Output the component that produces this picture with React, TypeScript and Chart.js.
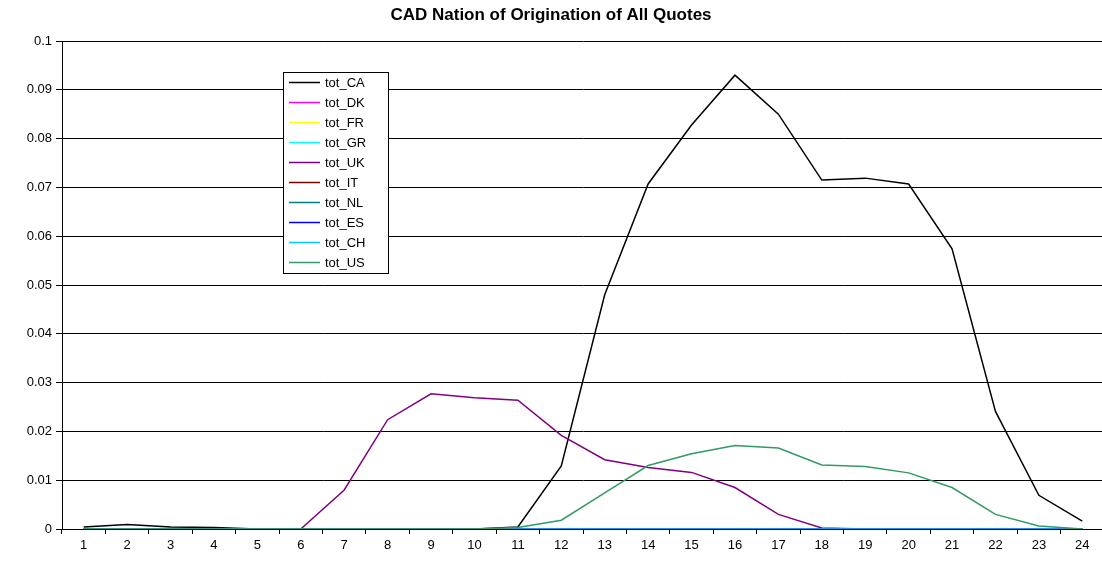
import React, { useEffect, useRef } from "react";
import { Chart, registerables } from "chart.js";

Chart.register(...registerables);

const hours = ["1","2","3","4","5","6","7","8","9","10","11","12","13","14","15","16","17","18","19","20","21","22","23","24"];
const zeros = [0,0,0,0,0,0,0,0,0,0,0,0,0,0,0,0,0,0,0,0,0,0,0,0];

const totCA = [0.0004,0.0009,0.0004,0.0003,0,0,0,0,0,0,0.0004,0.0129,0.048,0.0707,0.0828,0.093,0.085,0.0715,0.0719,0.0707,0.0574,0.0241,0.0069,0.0016];
const totDK = zeros;
const totFR = zeros;
const totGR = zeros;
const totUK = [0,0,0,0,0,0,0.008,0.0224,0.0277,0.0269,0.0264,0.0192,0.0142,0.0126,0.0116,0.0085,0.003,0.0002,0,0,0,0,0,0];
const totIT = zeros;
const totNL = zeros;
const totES = zeros;
const totCH = zeros;
const totUS = [0,0,0,0,0,0,0,0,0,0,0.0003,0.0018,0.0074,0.013,0.0154,0.0171,0.0166,0.0131,0.0128,0.0115,0.0085,0.003,0.0006,0];

const seriesNames = ["tot_CA","tot_DK","tot_FR","tot_GR","tot_UK","tot_IT","tot_NL","tot_ES","tot_CH","tot_US"];
const seriesValues = [totCA,totDK,totFR,totGR,totUK,totIT,totNL,totES,totCH,totUS];
const seriesColors = ["#000000","#FF00FF","#FFFF00","#00FFFF","#800080","#800000","#008080","#0000FF","#00CCFF","#339966"];

const FONT = "'Liberation Sans', Arial, sans-serif";

const titlePlugin = {
  id: "customTitle",
  afterDraw(chart: any) {
    const ctx = chart.ctx;
    ctx.save();
    ctx.font = `bold 17px ${FONT}`;
    ctx.fillStyle = "#000";
    ctx.textAlign = "center";
    ctx.textBaseline = "middle";
    ctx.fillText("CAD Nation of Origination of All Quotes", 551, 15);
    ctx.restore();
  },
};

const legendPlugin = {
  id: "boxLegend",
  afterDraw(chart: any) {
    const ctx = chart.ctx;
    const x0 = 283.5, y0 = 72.5, w = 105, h = 201;
    ctx.save();
    ctx.fillStyle = "#fff";
    ctx.fillRect(x0, y0, w, h);
    ctx.strokeStyle = "#000";
    ctx.lineWidth = 1;
    ctx.strokeRect(x0, y0, w, h);
    ctx.font = `13px ${FONT}`;
    ctx.textBaseline = "middle";
    ctx.textAlign = "left";
    chart.data.datasets.forEach((ds: any, i: number) => {
      const y = 82.5 + i * 20;
      ctx.strokeStyle = ds.borderColor;
      ctx.lineWidth = 1.5;
      ctx.beginPath();
      ctx.moveTo(289, y);
      ctx.lineTo(320, y);
      ctx.stroke();
      ctx.fillStyle = "#000";
      ctx.fillText(ds.label, 325, y + 1);
    });
    ctx.restore();
  },
};

export default function App() {
  const ref = useRef<HTMLCanvasElement | null>(null);
  useEffect(() => {
    if (!ref.current) return;
    const chart = new Chart(ref.current, {
      type: "line",
      data: {
        labels: hours,
        datasets: seriesNames.map((name, i) => ({
          label: name,
          data: seriesValues[i],
          borderColor: seriesColors[i],
          backgroundColor: seriesColors[i],
          borderWidth: 1.5,
          pointRadius: 0,
          tension: 0,
          fill: false,
          order: seriesNames.length - i,
        })),
      },
      options: {
        animation: false,
        responsive: false,
        maintainAspectRatio: false,
        layout: { padding: { top: 41, right: 6, left: 0, bottom: 0 } },
        plugins: { legend: { display: false }, title: { display: false }, tooltip: { enabled: false } },
        scales: {
          x: {
            type: "category",
            offset: true,
            grid: { offset: true, drawOnChartArea: false, drawTicks: true, tickLength: 5, color: "#000" },
            border: { color: "#000", width: 1 },
            ticks: { color: "#000", font: { family: FONT, size: 13 }, padding: 4, maxRotation: 0, autoSkip: false },
            afterFit(scale: any) { scale.height = 32; },
          },
          y: {
            min: 0,
            max: 0.1,
            grid: { color: "#000", lineWidth: 1, tickLength: 6, drawTicks: true },
            border: { color: "#000", width: 1 },
            ticks: {
              stepSize: 0.01,
              color: "#000",
              padding: 4,
              font: { family: FONT, size: 13 },
              callback: (v: any) => String(Math.round(Number(v) * 100) / 100),
            },
            afterFit(scale: any) { scale.width = 62; },
          },
        },
      },
      plugins: [titlePlugin, legendPlugin],
    });
    return () => chart.destroy();
  }, []);
  return (
    <div style={{ position: "fixed", left: 0, top: 0, width: 1102, height: 561, overflow: "hidden", background: "#fff" }}>
      <canvas ref={ref} width={1110} height={561} style={{ display: "block" }} />
    </div>
  );
}
